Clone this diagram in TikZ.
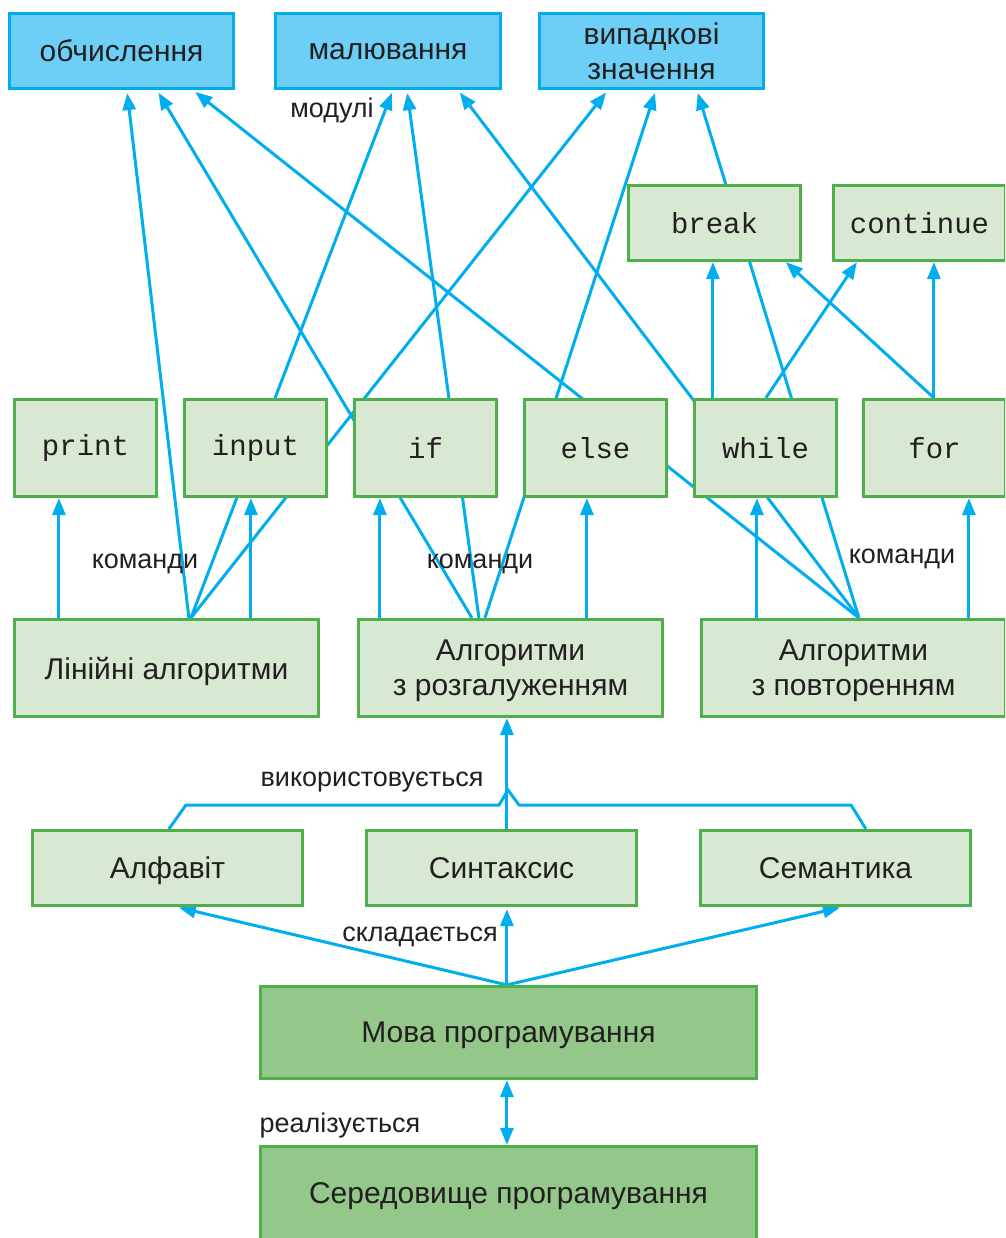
\documentclass[tikz,border=0pt]{standalone}
\usepackage{fontspec}
\setmainfont{Liberation Sans}
\newfontfamily\monof{Liberation Mono}
\usetikzlibrary{arrows.meta,backgrounds,calc}
\definecolor{ln}{HTML}{00AEEF}
\definecolor{blf}{HTML}{6DCFF6}
\definecolor{blb}{HTML}{00AEEF}
\definecolor{grf}{HTML}{D9E8D3}
\definecolor{grb}{HTML}{4DB04A}
\definecolor{dgf}{HTML}{93C88A}
\definecolor{txt}{HTML}{231F20}
\begin{document}
\begin{tikzpicture}[x=1pt,y=-1pt,
  box/.style={draw=grb, fill=grf, line width=3.2pt, inner sep=0pt, align=center, text=txt,
    text depth=0pt, font=\fontsize{30}{35}\selectfont},
  modbox/.style={box, draw=blb, fill=blf},
  cmdbox/.style={box, text depth=, font=\monof\fontsize{29}{34}\selectfont, minimum width=142pt, minimum height=97pt},
  darkbox/.style={box, fill=dgf},
  lbl/.style={text=txt, inner sep=0pt, font=\fontsize{27}{30}\selectfont},
  con/.style={draw=ln, line width=3pt, -{Triangle[length=17pt,width=13pt]}},
  tcon/.style={con, shorten >=3pt},
  plain/.style={draw=ln, line width=3pt},
  dcon/.style={draw=ln, line width=3pt, {Triangle[length=17pt,width=13pt]}-{Triangle[length=17pt,width=13pt]}}
]
\useasboundingbox (0,0) rectangle (1005,1238);
\clip (0,0) rectangle (1005,1238);

% top modules
\node[modbox, minimum width=224pt, minimum height=75pt] (obch) at (121.5,51) {обчислення};
\node[modbox, minimum width=225pt, minimum height=75pt] (maluv) at (388,51) {малювання};
\node[modbox, minimum width=224pt, minimum height=75pt] (vyp) at (651.5,51) {випадкові\\значення};

% break / continue
\node[cmdbox, minimum height=75pt, minimum width=172pt] (brk) at (714.5,223) {break};
\node[cmdbox, minimum height=75pt, minimum width=172pt] (cont) at (919.5,223) {continue};

% commands
\node[cmdbox] (print) at (85.5,448) {print};
\node[cmdbox] (input) at (255.5,448) {input};
\node[cmdbox] (if) at (425.5,448) {if};
\node[cmdbox] (else) at (595.5,448) {else};
\node[cmdbox] (while) at (765.5,448) {while};
\node[cmdbox] (for) at (934.5,448) {for};

% algorithms
\node[box, minimum width=304pt, minimum height=97pt] (lin) at (166.5,668) {Лінійні алгоритми};
\node[box, minimum width=304pt, minimum height=97pt] (rozg) at (510.5,668) {Алгоритми\\з розгалуженням};
\node[box, minimum width=304pt, minimum height=97pt] (povt) at (853.5,668) {Алгоритми\\з повторенням};

% language parts
\node[box, minimum width=270pt, minimum height=75pt] (alf) at (167.5,868) {Алфавіт};
\node[box, minimum width=270pt, minimum height=75pt] (synt) at (501.5,868) {Синтаксис};
\node[box, minimum width=270pt, minimum height=75pt] (sem) at (835.5,868) {Семантика};

\node[darkbox, minimum width=496pt, minimum height=92pt] (mova) at (508.5,1032.5) {Мова програмування};
\node[darkbox, minimum width=496pt, minimum height=93pt] (sered) at (508.5,1193) {Середовище програмування};

% labels
\node[lbl] (lmod) at (332,111) {модулі};
\node[lbl] (lk1) at (145,564) {команди};
\node[lbl] (lk2) at (480,564) {команди};
\node[lbl] (lk3) at (902,559) {команди};
\node[lbl] (lvik) at (372,782) {використовується};
\node[lbl] (lskl) at (420,937) {складається};
\node[lbl] (lreal) at (340,1126) {реалізується};

\coordinate (b1) at (186,805);
\coordinate (b2) at (499,805);
\coordinate (b3) at (508,790);
\coordinate (b4) at (519,805);
\coordinate (b5) at (851,805);

\begin{pgfonlayer}{background}
% algorithms -> commands
\draw[con] ([xshift=46pt]lin.north west) -- ([xshift=46pt]print.south west);
\draw[con] ([xshift=238pt]lin.north west) -- ([xshift=68pt]input.south west);
\draw[con] ([xshift=23pt]rozg.north west) -- ([xshift=27pt]if.south west);
\draw[con] ([xshift=230pt]rozg.north west) -- ([xshift=64pt]else.south west);
\draw[con] ([xshift=57pt]povt.north west) -- ([xshift=64pt]while.south west);
\draw[con] ([xshift=269pt]povt.north west) -- ([xshift=107pt]for.south west);
% algorithms -> modules
\draw[tcon] ([xshift=176pt]lin.north west) -- ([xshift=119pt]obch.south west);
\draw[tcon] ([xshift=178pt]lin.north west) -- ([xshift=119pt]maluv.south west);
\draw[tcon] ([xshift=178pt]lin.north west) -- ([xshift=70pt]vyp.south west);
\draw[tcon] ([xshift=115pt]rozg.north west) -- ([xshift=149pt]obch.south west);
\draw[tcon] ([xshift=122pt]rozg.north west) -- ([xshift=133pt]maluv.south west);
\draw[tcon] ([xshift=128pt]rozg.north west) -- ([xshift=118pt]vyp.south west);
\draw[tcon] ([xshift=159pt]povt.north west) -- ([xshift=185pt]obch.south west);
\draw[tcon] ([xshift=159pt]povt.north west) -- ([xshift=184pt]maluv.south west);
\draw[tcon] ([xshift=159pt]povt.north west) -- ([xshift=159pt]vyp.south west);
% loops -> break / continue
\draw[con] ([xshift=20pt]while.north west) -- ([xshift=86pt]brk.south west);
\draw[con] ([xshift=73pt]while.north west) -- ([xshift=25pt]cont.south west);
\draw[con] ([xshift=72pt]for.north west) -- ([xshift=159pt]brk.south west);
\draw[con] ([xshift=72pt]for.north west) -- ([xshift=102pt]cont.south west);
% language
\draw[con] ([xshift=142pt]synt.north west) -- ([xshift=150pt]rozg.south west);
\draw[plain] ([xshift=138pt]alf.north west) -- (b1) -- (b2) -- (b3) -- (b4) -- (b5) -- ([xshift=167pt]sem.north west);
\draw[con, shorten >=2pt] ([xshift=248pt]mova.north west) -- ([xshift=146pt]alf.south west);
\draw[con, shorten >=2pt] ([xshift=248pt]mova.north west) -- ([xshift=142pt]synt.south west);
\draw[con, shorten >=2pt] ([xshift=248pt]mova.north west) -- ([xshift=143pt]sem.south west);
\draw[dcon] ([xshift=248pt]mova.south west) -- ([xshift=248pt]sered.north west);
\end{pgfonlayer}
\end{tikzpicture}
\end{document}
